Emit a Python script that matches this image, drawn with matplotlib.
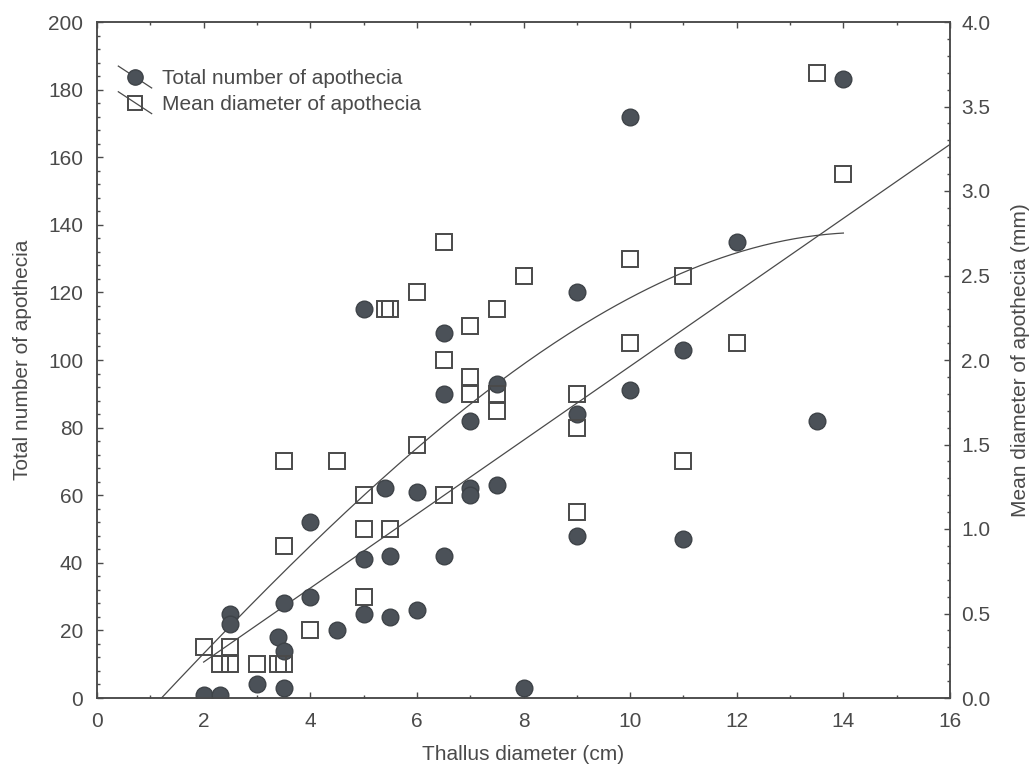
import numpy as np
import matplotlib
matplotlib.use("Agg")
import matplotlib.pyplot as plt
from matplotlib.lines import Line2D
from matplotlib.legend_handler import HandlerBase
from matplotlib.ticker import MultipleLocator, FormatStrFormatter

plt.rcParams["font.family"] = ["Liberation Sans", "DejaVu Sans"]

# total number of apothecia per thallus (filled circles, left axis)
total_x = [2, 2.3, 2.5, 2.5, 3, 3.4, 3.5, 3.5, 3.5, 4, 4, 4.5, 5, 5, 5,
           5.4, 5.5, 5.5, 6, 6, 6.5, 6.5, 6.5, 7, 7, 7, 7.5, 7.5, 8,
           9, 9, 9, 10, 10, 11, 11, 12, 13.5, 14]
total_y = [1, 1, 25, 22, 4, 18, 14, 3, 28, 30, 52, 20, 115, 41, 25,
           62, 42, 24, 61, 26, 108, 90, 42, 82, 62, 60, 93, 63, 3,
           120, 84, 48, 172, 91, 103, 47, 135, 82, 183]

# mean diameter of apothecia in mm (open squares, right axis)
diam_x = [2, 2.5, 2.3, 2.5, 3, 3.4, 3.5, 3.5, 3.5, 4, 4.5, 5, 5, 5,
          5.5, 5.4, 5.5, 6, 6, 6.5, 6.5, 6.5, 7, 7, 7, 7.5, 7.5, 7.5,
          8, 9, 9, 9, 10, 10, 11, 11, 12, 13.5, 14]
diam_y = [0.3, 0.3, 0.2, 0.2, 0.2, 0.2, 0.2, 0.9, 1.4, 0.4, 1.4, 0.6, 1.0, 1.2,
          1.0, 2.3, 2.3, 1.5, 2.4, 1.2, 2.0, 2.7, 1.8, 1.9, 2.2, 1.7, 1.8, 2.3,
          2.5, 1.1, 1.6, 1.8, 2.1, 2.6, 1.4, 2.5, 2.1, 3.7, 3.1]

# straight trend line (left-axis units): slope, intercept, x end
lin_fit = [10.94, -11.25]
lin_x_end = 16

# points (left-axis units)
curve_x = [1.13, 2.48, 3.6, 4.98, 6.01, 6.99, 7.54, 9, 10, 11, 12, 14]
curve_y = [0, 19.6, 36.9, 60.6, 74.6, 87.7, 94, 109.4, 118.2, 124.2, 132, 138]

INK = "#4a4a4a"
DOT = "#4b5158"
FS = 15


class DiagonalHandler(HandlerBase):
    # legend glyph: marker with a short slanted line through it
    def create_artists(self, legend, orig_handle, xdescent, ydescent,
                       width, height, fontsize, trans):
        x0, x1 = -xdescent, -xdescent + width
        y0, y1 = -ydescent, -ydescent + height
        line = Line2D([x0, x1], [y1 + 0.25 * height, y0 - 0.25 * height],
                      color=INK, lw=0.9)
        mark = Line2D([(x0 + x1) / 2], [(y0 + y1) / 2], ls="none",
                      marker=orig_handle.get_marker(),
                      markersize=orig_handle.get_markersize(),
                      markerfacecolor=orig_handle.get_markerfacecolor(),
                      markeredgecolor=orig_handle.get_markeredgecolor(),
                      markeredgewidth=orig_handle.get_markeredgewidth())
        line.set_transform(trans)
        mark.set_transform(trans)
        return [line, mark]


fig = plt.figure(figsize=(10.34, 7.76), dpi=100)
ax = fig.add_axes([97 / 1034, 1 - 698 / 776, 853 / 1034, 676 / 776])
ax2 = ax.twinx()

ax.plot(total_x, total_y, "o", ms=12, mfc=DOT, mec="#3e4348", mew=1,
        zorder=3)
ax2.plot(diam_x, diam_y, "s", ms=11.2, mfc="none", mec=INK, mew=1.4,
         zorder=3)

# trend lines
xl = np.linspace(min(total_x), lin_x_end, 50)
ax.plot(xl, np.polyval(lin_fit, xl), color=INK, lw=0.9, zorder=2)

coef = np.polyfit(curve_x, curve_y, 3)
xc = np.linspace(1.0, max(curve_x), 200)
ax.plot(xc, np.polyval(coef, xc), color=INK, lw=0.9, zorder=2)

ax.set_xlim(0, 16)
ax.set_ylim(0, 200)
ax2.set_ylim(0, 4)

ax.xaxis.set_major_locator(MultipleLocator(2))
ax.xaxis.set_minor_locator(MultipleLocator(1))
ax.yaxis.set_major_locator(MultipleLocator(20))
ax.yaxis.set_minor_locator(MultipleLocator(4))
ax2.yaxis.set_major_locator(MultipleLocator(0.5))
ax2.yaxis.set_minor_locator(MultipleLocator(0.1))
ax2.yaxis.set_major_formatter(FormatStrFormatter("%.1f"))

ax.tick_params(which="both", direction="in", top=True, right=False,
               colors=INK, labelsize=FS, width=1)
ax.tick_params(which="major", length=4)
ax.tick_params(which="minor", length=2.5)
ax.tick_params(axis="x", pad=10)
ax.tick_params(axis="y", pad=10)
ax2.tick_params(which="both", direction="in", left=False, colors=INK,
                labelsize=FS, width=1, pad=8)
ax2.tick_params(which="major", length=4)
ax2.tick_params(which="minor", length=2.5)

for a in (ax, ax2):
    for s in a.spines.values():
        s.set_color(INK)
        s.set_linewidth(1.1)

ax.set_xlabel("Thallus diameter (cm)", fontsize=FS, color=INK)
ax.xaxis.set_label_coords(0.5, -0.0695)
ax.set_ylabel("Total number of apothecia", fontsize=FS, color=INK)
ax.yaxis.set_label_coords(-0.076, 0.5)
ax2.set_ylabel("Mean diameter of apothecia (mm)", fontsize=FS, color=INK)
ax2.yaxis.set_label_coords(1.071, 0.5)

handles = [
    Line2D([], [], marker="o", ms=11, mfc=DOT, mec="#3e4348", mew=1, ls="none"),
    Line2D([], [], marker="s", ms=10, mfc="none", mec=INK, mew=1.4, ls="none"),
]
labels = ["Total number of apothecia", "Mean diameter of apothecia"]
ax2.legend(handles, labels, handler_map={Line2D: DiagonalHandler()},
           loc="upper left", bbox_to_anchor=(0.025, 0.93), frameon=False,
           fontsize=FS, labelcolor=INK, handlelength=1.6, handletextpad=0.5,
           labelspacing=0.32, borderpad=0, borderaxespad=0)

fig.savefig("out.png", dpi=100, facecolor="white")
